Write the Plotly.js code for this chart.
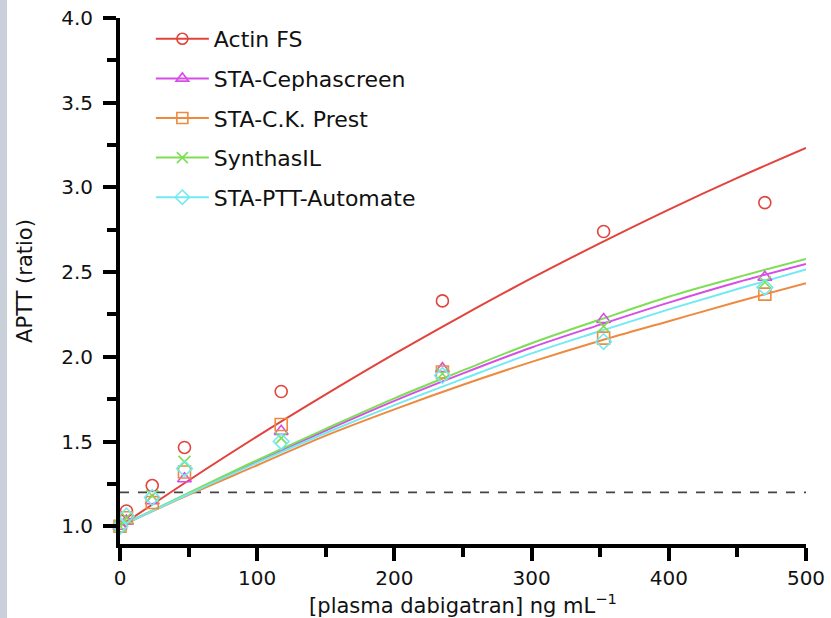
<!DOCTYPE html>
<html>
<head>
<meta charset="utf-8">
<script src="https://cdn.plot.ly/plotly-3.0.1.min.js"></script>
<style>
  html, body { margin: 0; padding: 0; background: #ffffff; }
  #chart { width: 831px; height: 618px; position: relative; }
  #band { position: absolute; left: 0; top: 0; width: 7px; height: 618px; background: #c9d0d9; z-index: 5; }
</style>
</head>
<body>
<div id="band"></div>
<div id="chart"></div>
<script>
// ---- data ----
const seriesNames = ["Actin FS", "STA-Cephascreen", "STA-C.K. Prest", "SynthasIL", "STA-PTT-Automate"];
const doseX = [0, 4.7, 23.5, 47, 117.5, 235, 352.5, 470];

const actinPts   = [1.00, 1.09, 1.24, 1.465, 1.795, 2.33, 2.74, 2.91];
const cephaPts   = [1.00, 1.03, 1.15, 1.28, 1.56, 1.93, 2.22, 2.47];
const ckPts      = [1.00, 1.05, 1.14, 1.32, 1.60, 1.91, 2.11, 2.37];
const synthPts   = [1.00, 1.05, 1.18, 1.38, 1.52, 1.90, 2.18, 2.44];
const pttPts     = [1.00, 1.06, 1.17, 1.34, 1.50, 1.89, 2.09, 2.41];

const fitX       = [0, 50, 100, 150, 200, 250, 300, 350, 400, 450, 500];
const actinFit   = [1.00, 1.27, 1.53, 1.778, 2.017, 2.245, 2.464, 2.671, 2.869, 3.056, 3.233];
const cephaFit   = [1.00, 1.193, 1.383, 1.565, 1.74, 1.902, 2.055, 2.19, 2.32, 2.44, 2.548];
const ckFit      = [1.00, 1.185, 1.36, 1.535, 1.69, 1.835, 1.97, 2.095, 2.21, 2.325, 2.435];
const synthFit   = [1.00, 1.196, 1.39, 1.575, 1.755, 1.92, 2.08, 2.22, 2.355, 2.47, 2.578];
const pttFit     = [1.00, 1.19, 1.375, 1.55, 1.715, 1.87, 2.02, 2.152, 2.28, 2.40, 2.515];

const thresholdY = 1.2;

const xTickVals = [0, 100, 200, 300, 400, 500];
const yTickVals = [1.0, 1.5, 2.0, 2.5, 3.0, 3.5, 4.0];

// ---- styles ----
const colors  = ["#e2433c", "#d64ee6", "#ee8a40", "#7ede55", "#72eaf2"];
const symbols = ["circle-open", "triangle-up-open", "square-open", "x-thin-open", "diamond-open"];
const allPts  = [actinPts, cephaPts, ckPts, synthPts, pttPts];
const allFits = [actinFit, cephaFit, ckFit, synthFit, pttFit];

const traces = [];
// fitted curves
allFits.forEach((f, i) => {
  traces.push({
    x: fitX, y: f, mode: "lines", type: "scatter",
    line: { color: colors[i], width: 2, shape: "spline", smoothing: 1 },
    showlegend: false, hoverinfo: "skip"
  });
});
// measured points
allPts.forEach((p, i) => {
  traces.push({
    x: doseX, y: p, mode: "markers", type: "scatter", cliponaxis: false,
    marker: { symbol: symbols[i], size: 12, color: colors[i], line: { color: colors[i], width: 1.6 } },
    showlegend: false
  });
});
// legend entries
seriesNames.forEach((n, i) => {
  traces.push({
    x: [null], y: [null], name: n, mode: "lines+markers", type: "scatter",
    legendgroup: "g" + i,
    line: { color: colors[i], width: 2 },
    marker: { symbol: symbols[i], size: 11, color: colors[i], line: { color: colors[i], width: 1.6 } }
  });
});

const fontFam = "DejaVu Sans, Liberation Sans, Arial, sans-serif";

const layout = {
  width: 831, height: 618,
  margin: { l: 120, r: 25, t: 18, b: 74 },
  paper_bgcolor: "#ffffff", plot_bgcolor: "#ffffff",
  font: { family: fontFam, color: "#111111", size: 20 },
  showlegend: true,
  legend: {
    x: 0.045, y: 1.0, xanchor: "left", yanchor: "top",
    font: { family: fontFam, size: 22, color: "#111111" },
    bgcolor: "rgba(0,0,0,0)", borderwidth: 0,
    itemwidth: 53, tracegroupgap: 8, traceorder: "grouped"
  },
  xaxis: {
    range: [0, 500], showgrid: false, zeroline: false,
    showline: true, linecolor: "#000000", linewidth: 4,
    ticks: "outside", ticklen: 13, tickwidth: 4, tickcolor: "#000000",
    tickvals: xTickVals, ticktext: xTickVals.map(String),
    tickfont: { family: fontFam, size: 20, color: "#111111" },
    minor: { dtick: 50, tick0: 0, ticks: "outside", ticklen: 9, tickwidth: 4, tickcolor: "#000000" },
    title: { text: "[plasma dabigatran] ng mL<sup>−1</sup>", font: { family: fontFam, size: 21, color: "#111111" }, standoff: 10 }
  },
  yaxis: {
    range: [0.895, 4.0], showgrid: false, zeroline: false,
    showline: true, linecolor: "#000000", linewidth: 4,
    ticks: "outside", ticklen: 13, tickwidth: 4, tickcolor: "#000000",
    tickvals: yTickVals, ticktext: yTickVals.map(v => v.toFixed(1)),
    ticklabelstandoff: 6,
    tickfont: { family: fontFam, size: 20, color: "#111111" },
    minor: { dtick: 0.25, tick0: 1, ticks: "outside", ticklen: 9, tickwidth: 4, tickcolor: "#000000" },
    title: { text: "APTT (ratio)", font: { family: fontFam, size: 21, color: "#111111" }, standoff: 24 }
  },
  shapes: [{
    type: "line", xref: "x", yref: "y",
    x0: fitX[0], x1: fitX[fitX.length - 1], y0: thresholdY, y1: thresholdY,
    line: { color: "#444444", width: 1.6, dash: "dash" }, layer: "below"
  }]
};

Plotly.newPlot("chart", traces, layout, { displayModeBar: false, staticPlot: true });
</script>
</body>
</html>
